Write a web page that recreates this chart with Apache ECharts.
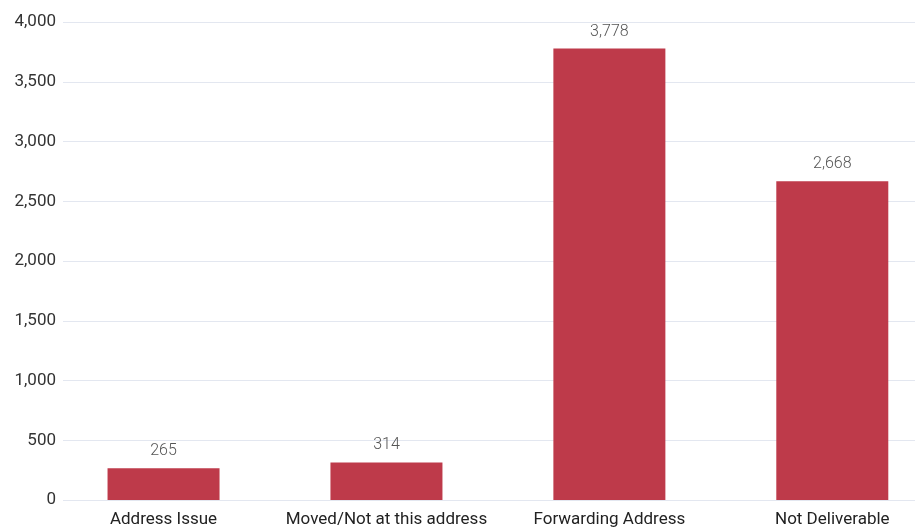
<!DOCTYPE html>
<html>
<head>
<meta charset="utf-8">
<script src="https://cdn.jsdelivr.net/npm/echarts@6/dist/echarts.min.js"></script>
<style>
html,body{margin:0;padding:0;background:#fff;}
#chart{width:915px;height:531px;}
</style>
</head>
<body>
<div id="chart"></div>
<script>
var categories = ["Address Issue", "Moved/Not at this address", "Forwarding Address", "Not Deliverable"];
var values = [265, 314, 3778, 2668];
var yTicks = [0, 500, 1000, 1500, 2000, 2500, 3000, 3500, 4000];

var chart = echarts.init(document.getElementById('chart'), null, {renderer: 'canvas'});
var fmt = function (v) { return Number(v).toLocaleString('en-US'); };
chart.setOption({
  animation: false,
  textStyle: {fontFamily: 'Roboto'},
  grid: {left: 63, right: 0, top: 22, bottom: 31, containLabel: false},
  xAxis: {
    type: 'value',
    min: -0.451,
    max: 3.371,
    splitLine: {show: false},
    axisLine: {show: false},
    axisTick: {show: false},
    axisLabel: {
      customValues: [0, 1, 2, 3],
      formatter: function (v) { return categories[Math.round(v)]; },
      color: '#222',
      fontSize: 17,
      margin: 11,
      fontFamily: 'Roboto'
    }
  },
  yAxis: {
    type: 'value',
    min: yTicks[0],
    max: yTicks[yTicks.length - 1],
    interval: 500,
    axisLine: {show: false},
    axisTick: {show: false},
    splitLine: {lineStyle: {color: '#e3e7f0', width: 1}},
    axisLabel: {
      formatter: fmt,
      color: '#333',
      fontSize: 17,
      margin: 7,
      fontFamily: 'Roboto'
    }
  },
  series: [{
    type: 'bar',
    barWidth: 112,
    data: values.map(function (v, i) { return [i, v]; }),
    itemStyle: {color: '#be3a4a'},
    label: {
      show: true,
      position: 'top',
      distance: 9,
      color: '#555',
      fontSize: 16,
      fontWeight: 300,
      fontFamily: 'Roboto',
      formatter: function (p) { return fmt(p.value[1]); }
    }
  }]
});
</script>
</body>
</html>
